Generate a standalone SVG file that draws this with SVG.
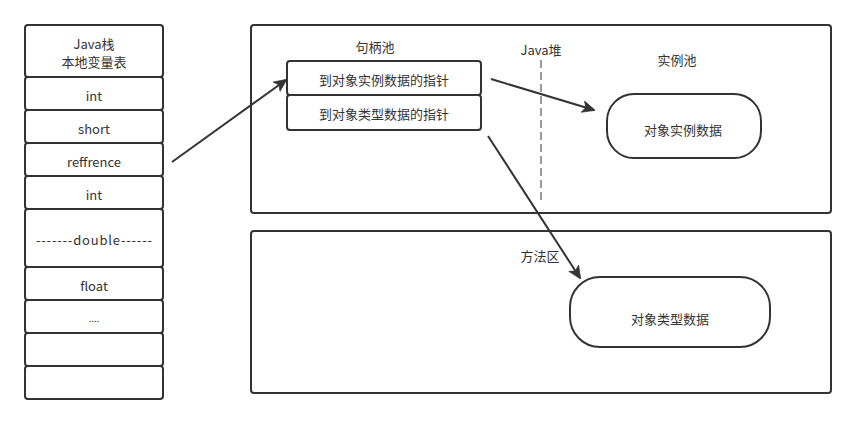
<svg xmlns="http://www.w3.org/2000/svg" width="856" height="424" viewBox="0 0 856 424">
<style>
.b{fill:#fff;stroke:#333;stroke-width:2}
.t{font-family:"Noto Sans CJK SC","Liberation Sans",sans-serif;font-size:13px;fill:#333;text-anchor:middle;dominant-baseline:central}
.c{fill:none;stroke:#333;stroke-width:2}
</style>
<defs>
<marker id="ah" viewBox="0 0 10 10" refX="9" refY="5" markerWidth="6.5" markerHeight="6.5" markerUnits="strokeWidth" orient="auto">
<path d="M0,0.5 L10,5 L0,9.5 L2.5,5 Z" fill="#333" stroke="#333" stroke-width="0.5"/>
</marker>
</defs>
<rect width="856" height="424" fill="#fff"/>
<g id="heap"><rect class="b" x="251" y="25" width="580" height="188" rx="3"/></g>
<g id="method"><rect class="b" x="251" y="231" width="580" height="162" rx="3"/><text class="t" x="540" y="255">方法区</text></g>
<g id="heapLabels">
<text class="t" x="375" y="46">句柄池</text>
<text class="t" x="541" y="49">Java堆</text>
<text class="t" x="677" y="59">实例池</text>
<line x1="541" y1="60" x2="541" y2="202" stroke="#999" stroke-width="2" stroke-dasharray="8 4"/>
</g>
<g id="stack">
<rect class="b" x="25" y="25" width="138" height="52" rx="3"/><text class="t" x="94" y="43">Java栈</text><text class="t" x="94" y="61">本地变量表</text>
<rect class="b" x="25" y="77" width="138" height="33" rx="3"/><text class="t" x="94" y="95">int</text>
<rect class="b" x="25" y="110" width="138" height="33" rx="3"/><text class="t" x="94" y="128">short</text>
<rect class="b" x="25" y="143" width="138" height="33" rx="3"/><text class="t" x="94" y="161">reffrence</text>
<rect class="b" x="25" y="176" width="138" height="33" rx="3"/><text class="t" x="94" y="194">int</text>
<rect class="b" x="25" y="209" width="138" height="58" rx="3"/><text class="t" x="94" y="239" textLength="116" lengthAdjust="spacing">-------double------</text>
<rect class="b" x="25" y="267" width="138" height="33" rx="3"/><text class="t" x="94" y="285">float</text>
<rect class="b" x="25" y="300" width="138" height="33" rx="3"/><text class="t" x="94" y="318" style="font-size:9px">....</text>
<rect class="b" x="25" y="333" width="138" height="33" rx="3"/>
<rect class="b" x="25" y="366" width="138" height="33" rx="3"/>
</g>
<g id="handle">
<rect class="b" x="287" y="61" width="194" height="34" rx="3"/><text class="t" x="384" y="79">到对象实例数据的指针</text>
<rect class="b" x="287" y="95" width="194" height="35" rx="3"/><text class="t" x="384" y="113">到对象类型数据的指针</text>
</g>
<g id="instance"><rect class="b" x="607" y="94" width="154" height="64" rx="27"/><text class="t" x="683" y="129">对象实例数据</text></g>
<g id="typeData"><rect class="b" x="570" y="277" width="200" height="70" rx="30"/><text class="t" x="670" y="318">对象类型数据</text></g>
<g id="connectors">
<line class="c" x1="172" y1="162" x2="286" y2="80" marker-end="url(#ah)"/>
<line class="c" x1="491" y1="79" x2="594" y2="110" marker-end="url(#ah)"/>
<line class="c" x1="488" y1="136" x2="580" y2="278" marker-end="url(#ah)"/>
</g>
</svg>
